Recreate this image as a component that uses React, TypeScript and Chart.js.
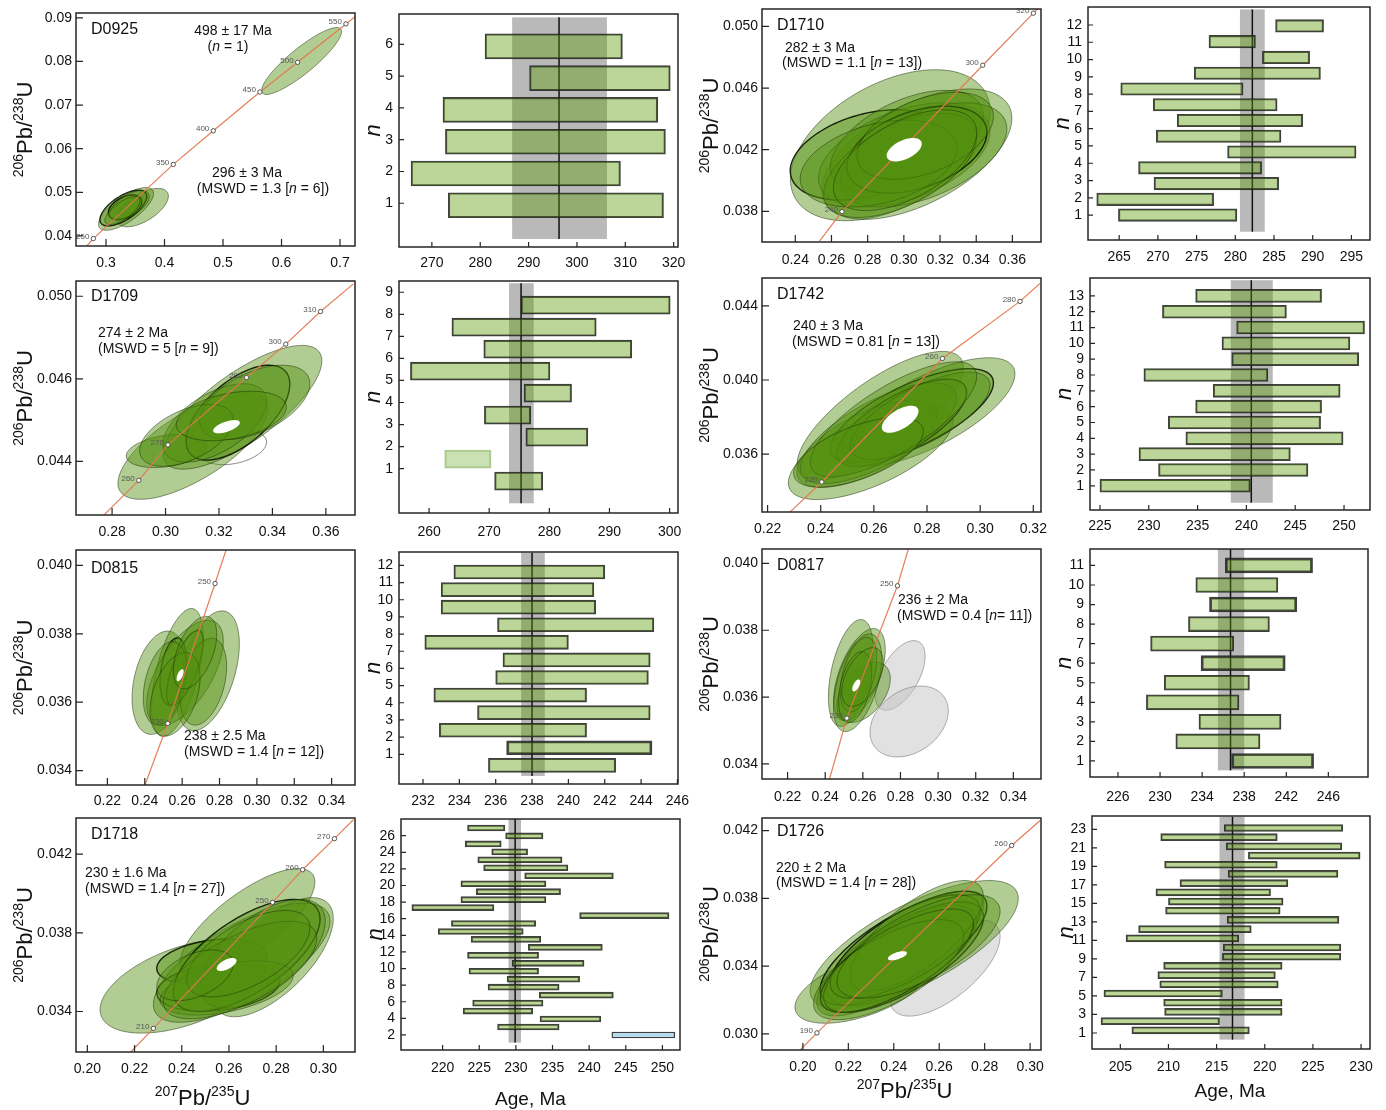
import React, { useEffect, useRef } from "react";
import { Chart, registerables } from "chart.js";

Chart.register(...registerables);

const FONT = "'Liberation Sans', Arial, Helvetica, sans-serif";
const PADL = 80;
const PADT = 16;
const PADR = 30;
const PADB = 62;

/* =================== rank-order age plots (n = 1 at the bottom) =================== */
const d0925AgeLo = [273.4, 265.7, 272.8, 272.3, 290.2, 281.0];
const d0925AgeHi = [317.9, 309.0, 318.3, 316.7, 319.3, 309.4];
const d0925Mean = 296.3;
const d0925MeanErr = [286.6, 306.2];
const d0925AgeTicks = [270, 280, 290, 300, 310, 320];
const d0925RankTicks = [1, 2, 3, 4, 5, 6];

const d1710AgeLo = [264.9, 262.1, 269.5, 267.5, 279.0, 269.8, 272.5, 269.4, 265.2, 274.7, 283.5, 276.6, 285.2];
const d1710AgeHi = [280.2, 277.2, 285.6, 283.4, 295.6, 285.9, 288.7, 285.4, 281.0, 291.0, 289.6, 282.6, 291.4];
const d1710Mean = 282.2;
const d1710MeanErr = [280.6, 283.8];
const d1710AgeTicks = [265, 270, 275, 280, 285, 290, 295];
const d1710RankTicks = [1, 2, 3, 4, 5, 6, 7, 8, 9, 10, 11, 12];

const d1709AgeLo = [270.9, 262.6, 276.1, 269.2, 275.8, 256.9, 269.1, 263.8, 275.3];
const d1709AgeHi = [278.9, 270.3, 286.4, 276.9, 283.7, 280.1, 293.7, 287.8, 300.1];
const d1709Excluded = [2];
const d1709Mean = 275.3;
const d1709MeanErr = [273.3, 277.4];
const d1709AgeTicks = [260, 270, 280, 290, 300];
const d1709RankTicks = [1, 2, 3, 4, 5, 6, 7, 8, 9];

const d1742AgeLo = [225.0, 231.0, 229.0, 233.8, 232.0, 234.8, 236.6, 229.5, 238.5, 237.5, 239.0, 231.4, 234.8];
const d1742AgeHi = [240.4, 246.3, 244.5, 249.9, 247.6, 247.7, 249.6, 242.2, 251.5, 250.6, 252.1, 244.1, 247.7];
const d1742Mean = 240.5;
const d1742MeanErr = [238.4, 242.7];
const d1742AgeTicks = [225, 230, 235, 240, 245, 250];
const d1742RankTicks = [1, 2, 3, 4, 5, 6, 7, 8, 9, 10, 11, 12, 13];

const d0815AgeLo = [235.6, 236.6, 232.9, 235.0, 232.6, 236.0, 236.4, 232.1, 236.1, 233.0, 233.0, 233.7];
const d0815AgeHi = [242.6, 244.6, 241.0, 244.5, 241.0, 244.4, 244.5, 240.0, 244.7, 241.5, 241.4, 242.0];
const d0815Mean = 238.0;
const d0815MeanErr = [237.4, 238.7];
const d0815AgeTicks = [232, 234, 236, 238, 240, 242, 244, 246];
const d0815RankTicks = [1, 2, 3, 4, 5, 6, 7, 8, 9, 10, 11, 12];

const d0817AgeLo = [236.8, 231.5, 233.7, 228.7, 230.4, 233.9, 229.1, 232.7, 234.7, 233.4, 236.2];
const d0817AgeHi = [244.6, 239.5, 241.5, 237.5, 238.5, 241.9, 237.0, 240.4, 243.0, 241.2, 244.5];
const d0817Mean = 236.7;
const d0817MeanErr = [235.5, 238.0];
const d0817AgeTicks = [226, 230, 234, 238, 242, 246];
const d0817RankTicks = [1, 2, 3, 4, 5, 6, 7, 8, 9, 10, 11];

const d1718AgeLo = [243.1, 227.5, 233.3, 222.8, 224.1, 233.2, 226.2, 228.8, 223.6, 229.5, 223.4, 231.7, 223.9, 219.4, 221.2, 238.7, 215.8, 222.5, 224.6, 222.5, 231.2, 225.6, 224.8, 226.7, 223.1, 228.6, 223.4];
const d1718AgeHi = [251.7, 235.9, 241.6, 232.3, 233.7, 243.3, 235.9, 238.7, 233.1, 239.3, 233.1, 241.8, 233.4, 231.0, 232.7, 250.9, 227.0, 234.1, 236.1, 234.1, 243.3, 237.1, 236.3, 231.6, 228.0, 233.7, 228.5];
const d1718Inherited = [1];
const d1718Mean = 229.9;
const d1718MeanErr = [229.0, 230.7];
const d1718AgeTicks = [220, 225, 230, 235, 240, 245, 250];
const d1718RankTicks = [2, 4, 6, 8, 10, 12, 14, 16, 18, 20, 22, 24, 26];

const d1726AgeLo = [206.2, 203.0, 209.6, 209.5, 203.3, 209.1, 208.9, 209.5, 215.6, 215.7, 205.6, 206.9, 216.1, 209.7, 210.0, 208.7, 211.2, 216.2, 209.6, 218.3, 216.0, 209.2, 215.8];
const d1726AgeHi = [218.4, 215.3, 221.8, 221.8, 215.6, 221.4, 221.1, 221.8, 227.9, 227.9, 217.3, 218.6, 227.7, 221.6, 221.9, 220.6, 222.4, 227.6, 221.3, 229.9, 228.0, 221.3, 228.1];
const d1726Mean = 216.65;
const d1726MeanErr = [215.3, 217.9];
const d1726AgeTicks = [205, 210, 215, 220, 225, 230];
const d1726RankTicks = [1, 3, 5, 7, 9, 11, 13, 15, 17, 19, 21, 23];

/* =================== concordia diagrams =================== */
// ellipse = [207Pb/235U, 206Pb/238U, half-width x, half-height y, rho]
const d0925XTicks = [0.3, 0.4, 0.5, 0.6, 0.7];
const d0925XLabels = ["0.3", "0.4", "0.5", "0.6", "0.7"];
const d0925YTicks = [0.04, 0.05, 0.06, 0.07, 0.08, 0.09];
const d0925YLabels = ["0.04", "0.05", "0.06", "0.07", "0.08", "0.09"];
const d0925ConcordiaEnds = [[0.267, 0.0377], [0.73, 0.0907]];
const d0925AgeMarks = [[250, 0.2784, 0.0394], [350, 0.415, 0.0564], [400, 0.4834, 0.0641], [450, 0.5631, 0.073], [500, 0.6275, 0.0798], [550, 0.7101, 0.0886]];
const d0925Ellipses = [
  [0.6343, 0.0801, 0.0683, 0.00767, 0.88],
  [0.3626, 0.0465, 0.044, 0.0044, 0.6],
  [0.3342, 0.0462, 0.047, 0.0049, 0.72],
  [0.3296, 0.0464, 0.04, 0.0041, 0.65],
  [0.3325, 0.0466, 0.0285, 0.0028, 0.45],
  [0.34, 0.047, 0.034, 0.0034, 0.6],
  [0.328, 0.0458, 0.03, 0.0032, 0.7],
];

const d1709XTicks = [0.28, 0.3, 0.32, 0.34, 0.36];
const d1709XLabels = ["0.28", "0.30", "0.32", "0.34", "0.36"];
const d1709YTicks = [0.044, 0.046, 0.048];
const d1709YLabels = ["0.044", "0.046", "0.050"];
const d1709ConcordiaEnds = [[0.2768, 0.04269], [0.3703, 0.0483]];
const d1709AgeMarks = [[260, 0.29, 0.04354], [270, 0.3009, 0.0444], [290, 0.3303, 0.04603], [300, 0.345, 0.04684], [310, 0.358, 0.04763]];
const d1709Ellipses = [
  [0.3103, 0.04438, 0.0281, 0.0013, 0.7],
  [0.3288, 0.04531, 0.0297, 0.0015, 0.75],
  [0.3003, 0.04425, 0.015, 0.0004, 0.3],
  [0.3271, 0.04518, 0.0194, 0.00115, 0.6],
  [0.3184, 0.04493, 0.0194, 0.00095, 0.55],
  [0.3334, 0.04543, 0.0206, 0.0009, 0.5],
  [0.3078, 0.04463, 0.0175, 0.00075, 0.5],
  [0.3246, 0.0451, 0.0206, 0.0006, 0.35],
];
const d1709Open = [[0.3253, 0.04434, 0.0125, 0.00042, 0.3]];
const d1709WeightedMean = [0.3228, 0.04484, 0.005, 0.00016, 0.6];

const d0815XTicks = [0.22, 0.24, 0.26, 0.28, 0.3, 0.32, 0.34];
const d0815XLabels = ["0.22", "0.24", "0.26", "0.28", "0.30", "0.32", "0.34"];
const d0815YTicks = [0.034, 0.036, 0.038, 0.04];
const d0815YLabels = ["0.034", "0.036", "0.038", "0.040"];
const d0815ConcordiaEnds = [[0.2401, 0.03358], [0.2835, 0.04045]];
const d0815AgeMarks = [[230, 0.2523, 0.03538], [250, 0.2776, 0.03947]];
const d0815Ellipses = [
  [0.2478, 0.03657, 0.0146, 0.00151, 0.3],
  [0.2738, 0.03692, 0.0168, 0.00175, 0.45],
  [0.2574, 0.03687, 0.0138, 0.00187, 0.55],
  [0.2553, 0.0369, 0.0071, 0.00098, 0.3],
  [0.2615, 0.037, 0.0098, 0.0011, 0.7],
  [0.2615, 0.03686, 0.0205, 0.00154, 0.6],
  [0.2508, 0.03655, 0.0116, 0.00122, 0.35],
  [0.2713, 0.0366, 0.0125, 0.00127, 0.35],
  [0.2562, 0.03623, 0.0134, 0.00122, 0.4],
  [0.2669, 0.03745, 0.0116, 0.00106, 0.5],
];
const d0815WeightedMean = [0.2589, 0.03679, 0.0019, 0.000175, 0.6];

const d1718XTicks = [0.2, 0.22, 0.24, 0.26, 0.28, 0.3];
const d1718XLabels = ["0.20", "0.22", "0.24", "0.26", "0.28", "0.30"];
const d1718YTicks = [0.034, 0.038, 0.042];
const d1718YLabels = ["0.034", "0.038", "0.042"];
const d1718ConcordiaEnds = [[0.2184, 0.03194], [0.3127, 0.04375]];
const d1718AgeMarks = [[210, 0.228, 0.03314], [250, 0.2785, 0.03955], [260, 0.2912, 0.04121], [270, 0.3047, 0.04279]];
const d1718Ellipses = [
  [0.2407, 0.03529, 0.0353, 0.00239, 0.5],
  [0.2678, 0.03851, 0.0286, 0.00276, 0.75],
  [0.2788, 0.03676, 0.0254, 0.00303, 0.65],
  [0.2527, 0.03654, 0.0233, 0.00115, 0.3],
  [0.2555, 0.03525, 0.0261, 0.00124, 0.25],
  [0.2654, 0.03648, 0.0374, 0.00303, 0.7],
  [0.2675, 0.03685, 0.0311, 0.00285, 0.65],
  [0.2743, 0.03694, 0.0265, 0.00276, 0.6],
  [0.259, 0.0352, 0.0282, 0.00138, 0.45],
  [0.2647, 0.03611, 0.0325, 0.00248, 0.65],
  [0.2682, 0.03694, 0.0261, 0.0022, 0.6],
  [0.2456, 0.03584, 0.0162, 0.00129, 0.45],
];
const d1718WeightedMean = [0.259, 0.03639, 0.0042, 0.00033, 0.6];

const d1710XTicks = [0.24, 0.26, 0.28, 0.3, 0.32, 0.34, 0.36];
const d1710XLabels = ["0.24", "0.26", "0.28", "0.30", "0.32", "0.34", "0.36"];
const d1710YTicks = [0.038, 0.042, 0.046, 0.05];
const d1710YLabels = ["0.038", "0.042", "0.046", "0.050"];
const d1710ConcordiaEnds = [[0.2534, 0.03607], [0.3758, 0.05136]];
const d1710AgeMarks = [[240, 0.2658, 0.03798], [300, 0.3436, 0.04748], [320, 0.3716, 0.05086]];
const d1710Ellipses = [
  [0.2925, 0.04229, 0.0552, 0.0049, 0.45],
  [0.3072, 0.04171, 0.0525, 0.00423, 0.55],
  [0.2805, 0.04166, 0.0433, 0.00293, 0.35],
  [0.3002, 0.04166, 0.0474, 0.00338, 0.45],
  [0.3017, 0.04252, 0.0423, 0.00333, 0.5],
  [0.3109, 0.04166, 0.046, 0.00338, 0.5],
  [0.3072, 0.042, 0.0387, 0.00282, 0.4],
  [0.298, 0.04098, 0.0423, 0.00338, 0.55],
  [0.286, 0.0411, 0.0433, 0.00282, 0.35],
  [0.3118, 0.0429, 0.0377, 0.00282, 0.45],
  [0.3007, 0.04132, 0.0396, 0.00327, 0.55],
];
const d1710WeightedMean = [0.3002, 0.042, 0.0097, 0.00076, 0.5];

const d1742XTicks = [0.22, 0.24, 0.26, 0.28, 0.3, 0.32];
const d1742XLabels = ["0.22", "0.24", "0.26", "0.28", "0.30", "0.32"];
const d1742YTicks = [0.036, 0.04, 0.044];
const d1742YLabels = ["0.036", "0.040", "0.044"];
const d1742ConcordiaEnds = [[0.2283, 0.03286], [0.3225, 0.0452]];
const d1742AgeMarks = [[220, 0.2404, 0.0345], [260, 0.2858, 0.04116], [280, 0.315, 0.04424]];
const d1742Ellipses = [
  [0.2624, 0.03807, 0.0313, 0.00347, 0.75],
  [0.2802, 0.03827, 0.0329, 0.00293, 0.7],
  [0.2588, 0.03613, 0.031, 0.00258, 0.65],
  [0.2743, 0.03807, 0.0307, 0.00254, 0.7],
  [0.2705, 0.03769, 0.0244, 0.00235, 0.7],
  [0.2573, 0.03656, 0.0263, 0.00235, 0.65],
  [0.2617, 0.03713, 0.0294, 0.00272, 0.7],
  [0.2774, 0.03807, 0.0263, 0.00235, 0.7],
  [0.2674, 0.03788, 0.0313, 0.0031, 0.75],
  [0.2542, 0.0361, 0.0244, 0.00188, 0.6],
];
const d1742WeightedMean = [0.2699, 0.03788, 0.0069, 0.00073, 0.6];

const d0817XTicks = [0.22, 0.24, 0.26, 0.28, 0.3, 0.32, 0.34];
const d0817XLabels = ["0.22", "0.24", "0.26", "0.28", "0.30", "0.32", "0.34"];
const d0817YTicks = [0.034, 0.036, 0.038, 0.04];
const d0817YLabels = ["0.034", "0.036", "0.038", "0.040"];
const d0817ConcordiaEnds = [[0.2423, 0.03355], [0.2842, 0.04043]];
const d0817AgeMarks = [[230, 0.2515, 0.03537], [250, 0.2784, 0.03933]];
const d0817Ellipses = [
  [0.2536, 0.03672, 0.0119, 0.0016, 0.45],
  [0.2582, 0.03667, 0.0137, 0.00138, 0.55],
  [0.2604, 0.03614, 0.0142, 0.0009, 0.45],
  [0.2572, 0.03643, 0.0128, 0.00146, 0.5],
  [0.2577, 0.03667, 0.0097, 0.00112, 0.45],
  [0.2559, 0.0363, 0.0088, 0.00106, 0.4],
  [0.2598, 0.0366, 0.011, 0.00088, 0.5],
];
const d0817Rejected = [
  [0.2798, 0.03665, 0.0133, 0.00104, 0.55],
  [0.2846, 0.03527, 0.0208, 0.00106, 0.3],
];
const d0817WeightedMean = [0.2565, 0.03635, 0.0021, 0.00018, 0.6];

const d1726XTicks = [0.2, 0.22, 0.24, 0.26, 0.28, 0.3];
const d1726XLabels = ["0.20", "0.22", "0.24", "0.26", "0.28", "0.30"];
const d1726YTicks = [0.03, 0.034, 0.038, 0.042];
const d1726YLabels = ["0.030", "0.034", "0.038", "0.042"];
const d1726ConcordiaEnds = [[0.1988, 0.02905], [0.3044, 0.04259]];
const d1726AgeMarks = [[190, 0.2062, 0.03006], [260, 0.2919, 0.04112]];
const d1726Ellipses = [
  [0.249, 0.03526, 0.0458, 0.00379, 0.72],
  [0.2262, 0.03274, 0.0297, 0.00211, 0.55],
  [0.2428, 0.03474, 0.0367, 0.00368, 0.78],
  [0.2428, 0.03495, 0.0352, 0.00326, 0.72],
  [0.2443, 0.03453, 0.0352, 0.00326, 0.72],
  [0.2435, 0.03463, 0.033, 0.00295, 0.68],
  [0.2465, 0.03526, 0.0345, 0.00316, 0.72],
  [0.2414, 0.03432, 0.0337, 0.00305, 0.72],
  [0.2501, 0.03579, 0.0293, 0.00326, 0.72],
  [0.2377, 0.03379, 0.033, 0.00295, 0.68],
  [0.2509, 0.03516, 0.0359, 0.00305, 0.68],
];
const d1726Rejected = [[0.2626, 0.03389, 0.0242, 0.00284, 0.65]];
const d1726WeightedMean = [0.2416, 0.03461, 0.0042, 0.00027, 0.6];

/* =================== layout / styling =================== */
const GREEN_FILL = "rgba(85,145,15,0.45)";
const GREEN_EDGE = "rgba(25,45,5,0.55)";
const BOLD_EDGE = "rgba(10,20,0,0.9)";
const BAR_FILL = "rgba(93,154,4,0.41)";

const concPanels: any[] = [
  { key: "D0925", frame: [76, 13, 355, 246], xr: [0.2487, 0.7256], yr: [0.0377, 0.0911], xt: d0925XTicks, xl: d0925XLabels, yt: d0925YTicks, yl: d0925YLabels, ends: d0925ConcordiaEnds, marks: d0925AgeMarks, ell: d0925Ellipses, bold: [3, 4], rej: [], open: [], mean: null, xPad: 9,
    texts: [[15, 17, 16, "left", "D0925"], [157, 18, 14, "center", "498 ± 17 Ma"], [152, 34, 14, "center", "(*n* = 1)"], [171, 160, 14, "center", "296 ± 3 Ma"], [187, 176, 14, "center", "(MSWD = 1.3 [*n* = 6])"]] },
  { key: "D1709", frame: [76, 281, 355, 515], xr: [0.2665, 0.3709], yr: [0.0427, 0.04837], xt: d1709XTicks, xl: d1709XLabels, yt: d1709YTicks, yl: d1709YLabels, ends: d1709ConcordiaEnds, marks: d1709AgeMarks, ell: d1709Ellipses, bold: [3], rej: [], open: d1709Open, mean: d1709WeightedMean, xPad: 9,
    texts: [[15, 16, 16, "left", "D1709"], [22, 52, 14, "left", "274 ± 2 Ma"], [22, 68, 14, "left", "(MSWD = 5 [*n* = 9])"]] },
  { key: "D0815", frame: [76, 550, 355, 785], xr: [0.2032, 0.3525], yr: [0.03358, 0.04045], xt: d0815XTicks, xl: d0815XLabels, yt: d0815YTicks, yl: d0815YLabels, ends: d0815ConcordiaEnds, marks: d0815AgeMarks, ell: d0815Ellipses, bold: [3, 4], rej: [], open: [], mean: d0815WeightedMean, xPad: 8,
    texts: [[15, 19, 16, "left", "D0815"], [108, 186, 14, "left", "238 ± 2.5 Ma"], [108, 202, 14, "left", "(MSWD = 1.4 [*n* = 12])"]] },
  { key: "D1718", frame: [76, 818, 355, 1052], xr: [0.1952, 0.3134], yr: [0.03194, 0.04384], xt: d1718XTicks, xl: d1718XLabels, yt: d1718YTicks, yl: d1718YLabels, ends: d1718ConcordiaEnds, marks: d1718AgeMarks, ell: d1718Ellipses, bold: [3, 4, 6], rej: [], open: [], mean: d1718WeightedMean, xPad: 9,
    texts: [[15, 17, 16, "left", "D1718"], [9, 55, 14, "left", "230 ± 1.6 Ma"], [9, 71, 14, "left", "(MSWD = 1.4 [*n* = 27])"]], xTitle: [-13, 53] },
  { key: "D1710", frame: [762, 9, 1041, 242], xr: [0.2216, 0.3758], yr: [0.03601, 0.05113], xt: d1710XTicks, xl: d1710XLabels, yt: d1710YTicks, yl: d1710YLabels, ends: d1710ConcordiaEnds, marks: d1710AgeMarks, ell: d1710Ellipses, bold: [2, 6], rej: [], open: [], mean: d1710WeightedMean, xPad: 10,
    texts: [[15, 17, 16, "left", "D1710"], [23, 39, 14, "left", "282 ± 3 Ma"], [20, 54, 14, "left", "(MSWD = 1.1 [*n* = 13])"]] },
  { key: "D1742", frame: [762, 278, 1041, 512], xr: [0.2179, 0.3229], yr: [0.03288, 0.0455], xt: d1742XTicks, xl: d1742XLabels, yt: d1742YTicks, yl: d1742YLabels, ends: d1742ConcordiaEnds, marks: d1742AgeMarks, ell: d1742Ellipses, bold: [3, 4], rej: [], open: [], mean: d1742WeightedMean, xPad: 9,
    texts: [[15, 17, 16, "left", "D1742"], [31, 48, 14, "left", "240 ± 3 Ma"], [30, 64, 14, "left", "(MSWD = 0.81 [*n* = 13])"]] },
  { key: "D0817", frame: [762, 549, 1041, 779], xr: [0.2064, 0.3547], yr: [0.03355, 0.04043], xt: d0817XTicks, xl: d0817XLabels, yt: d0817YTicks, yl: d0817YLabels, ends: d0817ConcordiaEnds, marks: d0817AgeMarks, ell: d0817Ellipses, bold: [], rej: d0817Rejected, open: [], mean: d0817WeightedMean, xPad: 10,
    texts: [[15, 17, 16, "left", "D0817"], [136, 51, 14, "left", "236 ± 2 Ma"], [135, 67, 14, "left", "(MSWD = 0.4 [*n*= 11])"]] },
  { key: "D1726", frame: [762, 818, 1041, 1050], xr: [0.182, 0.3048], yr: [0.02905, 0.04274], xt: d1726XTicks, xl: d1726XLabels, yt: d1726YTicks, yl: d1726YLabels, ends: d1726ConcordiaEnds, marks: d1726AgeMarks, ell: d1726Ellipses, bold: [3, 4, 6, 7], rej: d1726Rejected, open: [], mean: d1726WeightedMean, xPad: 9,
    texts: [[15, 14, 16, "left", "D1726"], [14, 50, 14, "left", "220 ± 2 Ma"], [14, 65, 14, "left", "(MSWD = 1.4 [*n* = 28])"]], xTitle: [3, 48] },
];

const barPanels: any[] = [
  { key: "b0925", frame: [399, 14, 678, 247], xr: [263.2, 320.9], yr: [-0.376, 6.956], br: [-0.313, 7.019], bandY: [-0.124, 6.85], thick: 25, xPad: 8,
    lo: d0925AgeLo, hi: d0925AgeHi, mean: d0925Mean, err: d0925MeanErr, xt: d0925AgeTicks, yt: d0925RankTicks, light: [], blue: [], bold: [] },
  { key: "b1709", frame: [399, 281, 678, 513], xr: [255.0, 301.4], yr: [-1.01, 9.51], br: [-0.45, 10.1], bandY: [-0.57, 9.41], thick: 18, xPad: 11,
    lo: d1709AgeLo, hi: d1709AgeHi, mean: d1709Mean, err: d1709MeanErr, xt: d1709AgeTicks, yt: d1709RankTicks, light: d1709Excluded, blue: [], bold: [] },
  { key: "b0815", frame: [399, 552, 678, 784], xr: [230.68, 246.03], yr: [-0.73, 12.78], br: [-0.06, 13.14], bandY: [-0.26, 12.74], thick: 14, xPad: 9,
    lo: d0815AgeLo, hi: d0815AgeHi, mean: d0815Mean, err: d0815MeanErr, xt: d0815AgeTicks, yt: d0815RankTicks, light: [], blue: [], bold: [2] },
  { key: "b1718", frame: [401, 819, 680, 1050], xr: [214.32, 252.4], yr: [0.19, 28.01], br: [-0.89, 28.13], bandY: [1.08, 28.01], thick: 6, xPad: 10,
    lo: d1718AgeLo, hi: d1718AgeHi, mean: d1718Mean, err: d1718MeanErr, xt: d1718AgeTicks, yt: d1718RankTicks, light: [], blue: d1718Inherited, bold: [], xTitle: [-10, 55] },
  { key: "b1710", frame: [1088, 7, 1370, 240], xr: [260.97, 297.4], yr: [-0.44, 13.04], br: [-0.58, 14.2], bandY: [0.04, 12.9], thick: 12.5, xPad: 9,
    lo: d1710AgeLo, hi: d1710AgeHi, mean: d1710Mean, err: d1710MeanErr, xt: d1710AgeTicks, yt: d1710RankTicks, light: [], blue: [], bold: [] },
  { key: "b1742", frame: [1090, 278, 1370, 510], xr: [223.98, 252.66], yr: [-0.53, 14.13], br: [-0.53, 14.13], bandY: [-0.07, 13.99], thick: 13, xPad: 8,
    lo: d1742AgeLo, hi: d1742AgeHi, mean: d1742Mean, err: d1742MeanErr, xt: d1742AgeTicks, yt: d1742RankTicks, light: [], blue: [], bold: [] },
  { key: "b0817", frame: [1090, 549, 1368, 777], xr: [223.34, 249.77], yr: [0.18, 11.84], br: [0.18, 11.84], bandY: [0.52, 11.84], thick: 15, xPad: 12,
    lo: d0817AgeLo, hi: d0817AgeHi, mean: d0817Mean, err: d0817MeanErr, xt: d0817AgeTicks, yt: d0817RankTicks, light: [], blue: [], bold: [1, 6, 9, 11] },
  { key: "b1726", frame: [1092, 816, 1370, 1049], xr: [202.06, 230.93], yr: [-0.73, 24.44], br: [-1.03, 24.3], bandY: [0.28, 24.37], thick: 7, xPad: 10,
    lo: d1726AgeLo, hi: d1726AgeHi, mean: d1726Mean, err: d1726MeanErr, xt: d1726AgeTicks, yt: d1726RankTicks, light: [], blue: [], bold: [], xTitle: [-1, 48] },
];

/* =================== drawing helpers =================== */
function ellipsePath(ctx: any, xs: any, ys: any, e: number[]) {
  const [cx, cy, sx, sy, rho] = e;
  const k = Math.sqrt(Math.max(0, 1 - rho * rho));
  ctx.beginPath();
  for (let i = 0; i <= 96; i++) {
    const t = (i / 96) * Math.PI * 2;
    const vx = cx + sx * Math.cos(t);
    const vy = cy + sy * (rho * Math.cos(t) + k * Math.sin(t));
    const px = xs.getPixelForValue(vx);
    const py = ys.getPixelForValue(vy);
    if (i === 0) ctx.moveTo(px, py);
    else ctx.lineTo(px, py);
  }
  ctx.closePath();
}

function drawRich(ctx: any, text: string, x: number, y: number, size: number, align: string) {
  const parts = text.split("*");
  const fonts = parts.map((_, i) => (i % 2 ? "italic " : "") + size + "px " + FONT);
  const widths = parts.map((p, i) => {
    ctx.font = fonts[i];
    return ctx.measureText(p).width;
  });
  const total = widths.reduce((a, b) => a + b, 0);
  let cx = align === "center" ? x - total / 2 : x;
  ctx.textAlign = "left";
  ctx.textBaseline = "middle";
  ctx.fillStyle = "#111";
  parts.forEach((p, i) => {
    ctx.font = fonts[i];
    ctx.fillText(p, cx, y);
    cx += widths[i];
  });
}

function drawIso(ctx: any, x: number, y: number, rot: boolean, a: string, b: string, big: number, small: number) {
  ctx.save();
  ctx.translate(x, y);
  if (rot) ctx.rotate(-Math.PI / 2);
  const segs: [string, boolean][] = [[a, true], ["Pb/", false], [b, true], ["U", false]];
  const fb = big + "px " + FONT;
  const fs = small + "px " + FONT;
  let total = 0;
  const ws = segs.map(([t, s]) => {
    ctx.font = s ? fs : fb;
    const w = ctx.measureText(t).width;
    total += w;
    return w;
  });
  let cx = -total / 2;
  ctx.fillStyle = "#111";
  ctx.textBaseline = "alphabetic";
  ctx.textAlign = "left";
  segs.forEach(([t, s], i) => {
    ctx.font = s ? fs : fb;
    ctx.fillText(t, cx, s ? -big * 0.42 : 0);
    cx += ws[i];
  });
  ctx.restore();
}

function drawFrame(chart: any, tickLen: number) {
  const { ctx, chartArea: a, scales } = chart;
  const xs = scales.x;
  const ys = scales.y;
  ctx.save();
  ctx.strokeStyle = "#262626";
  ctx.lineWidth = 1.5;
  ctx.strokeRect(a.left, a.top, a.right - a.left, a.bottom - a.top);
  ctx.lineWidth = 1.2;
  ctx.beginPath();
  xs.ticks.forEach((t: any) => {
    const p = xs.getPixelForValue(t.value);
    ctx.moveTo(p, a.bottom);
    ctx.lineTo(p, a.bottom - tickLen);
  });
  ys.ticks.forEach((t: any) => {
    const p = ys.getPixelForValue(t.value);
    ctx.moveTo(a.left, p);
    ctx.lineTo(a.left + tickLen, p);
  });
  ctx.stroke();
  ctx.restore();
}

function axisCommon(min: number, max: number, tickVals: number[], labels: string[], pad: number, size: number, isX: boolean) {
  return {
    type: "linear",
    min,
    max,
    offset: false,
    grace: 0,
    grid: { display: false, drawTicks: false, offset: false },
    border: { display: false },
    ticks: {
      autoSkip: false,
      maxRotation: 0,
      minRotation: 0,
      padding: pad,
      color: "#111",
      font: { family: FONT, size },
      callback: (_v: any, i: number) => labels[i],
    },
    afterBuildTicks: (s: any) => {
      s.ticks = tickVals.map((v) => ({ value: v }));
    },
    afterFit: (s: any) => {
      if (isX) s.height = PADB;
      else s.width = PADL;
    },
  };
}

/* =================== chart configs =================== */
function concordiaConfig(p: any) {
  const linePts = [p.ends[0], ...p.marks.map((m: number[]) => [m[1], m[2]]), p.ends[1]];
  const plugin = {
    id: "conc" + p.key,
    beforeDatasetsDraw(chart: any) {
      const { ctx, chartArea: a, scales } = chart;
      const xs = scales.x;
      const ys = scales.y;
      ctx.save();
      ctx.beginPath();
      ctx.rect(a.left, a.top, a.right - a.left, a.bottom - a.top);
      ctx.clip();
      p.open.forEach((e: number[]) => {
        ellipsePath(ctx, xs, ys, e);
        ctx.fillStyle = "#ffffff";
        ctx.fill();
        ctx.strokeStyle = "rgba(90,90,90,0.8)";
        ctx.lineWidth = 0.9;
        ctx.stroke();
      });
      p.rej.forEach((e: number[]) => {
        ellipsePath(ctx, xs, ys, e);
        ctx.fillStyle = "rgba(195,195,195,0.5)";
        ctx.fill();
        ctx.strokeStyle = "rgba(110,110,110,0.6)";
        ctx.lineWidth = 0.9;
        ctx.stroke();
      });
      p.ell.forEach((e: number[], i: number) => {
        ellipsePath(ctx, xs, ys, e);
        ctx.fillStyle = GREEN_FILL;
        ctx.fill();
        const b = p.bold.includes(i);
        ctx.strokeStyle = b ? BOLD_EDGE : GREEN_EDGE;
        ctx.lineWidth = b ? 1.4 : 0.9;
        ctx.stroke();
      });
      ctx.restore();
    },
    afterDatasetsDraw(chart: any) {
      const { ctx, chartArea: a, scales } = chart;
      const xs = scales.x;
      const ys = scales.y;
      ctx.save();
      if (p.mean) {
        ellipsePath(ctx, xs, ys, p.mean);
        ctx.fillStyle = "#ffffff";
        ctx.fill();
      }
      ctx.font = "8px " + FONT;
      ctx.fillStyle = "#555";
      ctx.textAlign = "right";
      ctx.textBaseline = "middle";
      p.marks.forEach((m: number[]) => {
        ctx.fillText(String(m[0]), xs.getPixelForValue(m[1]) - 4, ys.getPixelForValue(m[2]) - 2);
      });
      ctx.restore();
      drawFrame(chart, 7);
      ctx.save();
      p.texts.forEach((t: any[]) => drawRich(ctx, t[4], a.left + t[0], a.top + t[1], t[2], t[3]));
      drawIso(ctx, a.left - 44, (a.top + a.bottom) / 2, true, "206", "238", 22, 14);
      if (p.xTitle) drawIso(ctx, (a.left + a.right) / 2 + p.xTitle[0], a.bottom + p.xTitle[1], false, "207", "235", 22, 14);
      ctx.restore();
    },
  };
  return {
    type: "scatter",
    data: {
      datasets: [
        {
          data: p.marks.map((m: number[]) => ({ x: m[1], y: m[2] })),
          pointRadius: 2.2,
          pointBackgroundColor: "#ffffff",
          pointBorderColor: "#444",
          pointBorderWidth: 0.9,
        },
        {
          data: linePts.map((q: number[]) => ({ x: q[0], y: q[1] })),
          showLine: true,
          pointRadius: 0,
          borderColor: "rgba(225,120,80,0.95)",
          borderWidth: 1.2,
        },
      ],
    },
    options: {
      animation: false,
      responsive: false,
      devicePixelRatio: 1,
      events: [],
      layout: { padding: { left: 0, top: PADT, right: PADR, bottom: 0 } },
      plugins: { legend: { display: false }, tooltip: { enabled: false } },
      scales: {
        x: axisCommon(p.xr[0], p.xr[1], p.xt, p.xl, p.xPad, 14, true),
        y: axisCommon(p.yr[0], p.yr[1], p.yt, p.yl, 4, 14, false),
      },
    },
    plugins: [plugin],
  };
}

function barConfig(p: any) {
  const plugin = {
    id: "bar" + p.key,
    beforeDatasetsDraw(chart: any) {
      const { ctx, scales } = chart;
      const xs = scales.x;
      const ys = scales.y;
      const x0 = xs.getPixelForValue(p.err[0]);
      const x1 = xs.getPixelForValue(p.err[1]);
      const yT = ys.getPixelForValue(p.bandY[1]);
      const yB = ys.getPixelForValue(p.bandY[0]);
      ctx.save();
      ctx.fillStyle = "#b9b9b9";
      ctx.fillRect(x0, yT, x1 - x0, yB - yT);
      const xm = xs.getPixelForValue(p.mean);
      ctx.strokeStyle = "#111";
      ctx.lineWidth = 1.5;
      ctx.beginPath();
      ctx.moveTo(xm, yT);
      ctx.lineTo(xm, yB);
      ctx.stroke();
      ctx.restore();
    },
    afterDraw(chart: any) {
      const { ctx, chartArea: a } = chart;
      drawFrame(chart, 5);
      ctx.save();
      ctx.translate(a.left - 19, (a.top + a.bottom) / 2);
      ctx.rotate(-Math.PI / 2);
      ctx.font = "italic 22px " + FONT;
      ctx.fillStyle = "#111";
      ctx.textAlign = "center";
      ctx.textBaseline = "alphabetic";
      ctx.fillText("n", 0, 0);
      ctx.restore();
      if (p.xTitle) {
        ctx.save();
        ctx.font = "19px " + FONT;
        ctx.fillStyle = "#111";
        ctx.textAlign = "center";
        ctx.textBaseline = "alphabetic";
        ctx.fillText("Age, Ma", (a.left + a.right) / 2 + p.xTitle[0], a.bottom + p.xTitle[1]);
        ctx.restore();
      }
    },
  };
  const ranks = p.lo.map((_: number, i: number) => i + 1);
  return {
    type: "bar",
    data: {
      datasets: [
        {
          data: p.lo.map((v: number, i: number) => ({ x: [v, p.hi[i]], y: ranks[i] })),
          xAxisID: "x",
          yAxisID: "yb",
          barThickness: p.thick,
          borderSkipped: false,
          backgroundColor: ranks.map((r: number) => (p.light.includes(r) ? "rgba(150,195,105,0.5)" : p.blue.includes(r) ? "rgba(185,218,236,1)" : BAR_FILL)),
          borderColor: ranks.map((r: number) => (p.light.includes(r) ? "rgba(140,180,100,0.7)" : "rgba(30,30,30,0.85)")),
          borderWidth: ranks.map((r: number) => (p.bold.includes(r) ? 2.2 : 1.4)),
        },
      ],
    },
    options: {
      indexAxis: "y",
      animation: false,
      responsive: false,
      devicePixelRatio: 1,
      events: [],
      layout: { padding: { left: 0, top: PADT, right: PADR, bottom: 0 } },
      plugins: { legend: { display: false }, tooltip: { enabled: false } },
      scales: {
        x: { ...axisCommon(p.xr[0], p.xr[1], p.xt, p.xt.map(String), p.xPad, 14, true), beginAtZero: false },
        y: { ...axisCommon(p.yr[0], p.yr[1], p.yt, p.yt.map(String), 6, 14, false), position: "left" },
        yb: { type: "linear", display: false, min: p.br[0], max: p.br[1], beginAtZero: false, offset: false, grace: 0, grid: { offset: false } },
      },
    },
    plugins: [plugin],
  };
}

/* =================== components =================== */
function ChartCanvas({ frame, make }: { frame: number[]; make: () => any }) {
  const ref = useRef<HTMLCanvasElement>(null);
  useEffect(() => {
    const chart = new Chart(ref.current as HTMLCanvasElement, make());
    return () => chart.destroy();
  }, []);
  const [l, t, r, b] = frame;
  const w = r - l + PADL + PADR;
  const h = b - t + PADT + PADB;
  return (
    <canvas
      ref={ref}
      width={w}
      height={h}
      style={{ position: "absolute", left: l - PADL, top: t - PADT, width: w, height: h }}
    />
  );
}

export default function App() {
  return (
    <div style={{ position: "fixed", left: 0, top: 0, width: 1386, height: 1110, overflow: "hidden", background: "#ffffff" }}>
      {concPanels.map((p) => (
        <ChartCanvas key={p.key} frame={p.frame} make={() => concordiaConfig(p)} />
      ))}
      {barPanels.map((p) => (
        <ChartCanvas key={p.key} frame={p.frame} make={() => barConfig(p)} />
      ))}
    </div>
  );
}
